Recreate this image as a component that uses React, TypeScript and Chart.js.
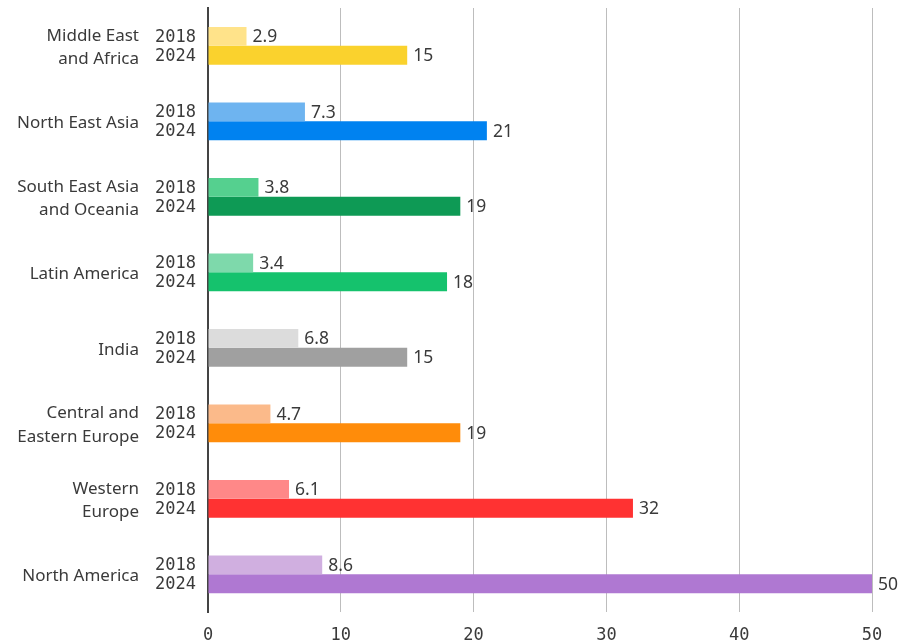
import React, { useEffect, useRef } from "react";
import { Chart, registerables } from "chart.js";

Chart.register(...registerables);

const regions: (string | string[])[] = [
  ["Middle East", "and Africa"],
  "North East Asia",
  ["South East Asia", "and Oceania"],
  "Latin America",
  "India",
  ["Central and", "Eastern Europe"],
  ["Western", "Europe"],
  "North America",
];
const yearLabels = ["2018", "2024"];
const values2018 = [2.9, 7.3, 3.8, 3.4, 6.8, 4.7, 6.1, 8.6];
const values2024 = [15, 21, 19, 18, 15, 19, 32, 50];
const colors2018 = ["#FFE38A", "#6EB4F0", "#55D08F", "#7ED9AB", "#DCDCDC", "#FBBA8A", "#FF8888", "#D0AFE0"];
const colors2024 = ["#FAD22D", "#0082F0", "#0E9A55", "#15C26D", "#A0A0A0", "#FF8C0A", "#FF3232", "#AF78D2"];
const xTicks = [0, 10, 20, 30, 40, 50];

const TEXT = "#3a3a3a";
const SANS = "'Noto Sans', sans-serif";
const MONO = "'DejaVu Sans Mono', monospace";

const labelPlugin = {
  id: "labelPlugin",
  afterDatasetsDraw(chart: any) {
    const ctx = chart.ctx;
    const yScale = chart.scales.y;
    ctx.save();
    chart.data.datasets.forEach((ds: any, di: number) => {
      const meta = chart.getDatasetMeta(di);
      meta.data.forEach((bar: any, i: number) => {
        const v = ds.data[i];
        ctx.font = `17.5px ${SANS}`;
        ctx.fillStyle = TEXT;
        ctx.textAlign = "left";
        ctx.textBaseline = "middle";
        ctx.fillText(String(v), bar.x + 6, bar.y + 1);
        ctx.font = `17px ${MONO}`;
        ctx.textAlign = "right";
        ctx.fillText(yearLabels[di], yScale.right - 12, bar.y + 1);
      });
    });
    ctx.restore();
  },
};

export default function App() {
  const ref = useRef<HTMLCanvasElement>(null);
  useEffect(() => {
    if (!ref.current) return;
    const chart = new Chart(ref.current, {
      type: "bar",
      data: {
        labels: regions,
        datasets: [
          { label: yearLabels[0], data: values2018, backgroundColor: colors2018, categoryPercentage: 0.5, barPercentage: 1 },
          { label: yearLabels[1], data: values2024, backgroundColor: colors2024, categoryPercentage: 0.5, barPercentage: 1 },
        ],
      },
      options: {
        indexAxis: "y",
        animation: false,
        responsive: true,
        maintainAspectRatio: false,
        layout: { padding: { left: 0, right: 45, top: 8, bottom: 0 } },
        plugins: { legend: { display: false }, tooltip: { enabled: false } },
        scales: {
          x: {
            min: 0,
            max: 50,
            afterBuildTicks: (s: any) => {
              s.ticks = xTicks.map((v) => ({ value: v }));
            },
            afterFit: (s: any) => {
              s.height = 30;
              s.paddingLeft = 0;
              s.paddingRight = 0;
            },
            grid: { color: "#bdbdbd", lineWidth: 1, drawTicks: false },
            border: { display: false },
            ticks: { color: TEXT, font: { family: MONO, size: 17 }, padding: 13 },
          },
          y: {
            afterFit: (s: any) => {
              s.width = 208;
              s.paddingTop = 0;
              s.paddingBottom = 0;
            },
            grid: { display: false, drawTicks: false },
            border: { display: true, color: "#444", width: 2 },
            ticks: { color: TEXT, font: { family: SANS, size: 17, lineHeight: 1.4 }, padding: 69, labelOffset: 2 },
          },
        },
      },
      plugins: [labelPlugin],
    });
    return () => chart.destroy();
  }, []);
  return (
    <div style={{ position: "fixed", left: 0, top: 0, width: 917, height: 642, background: "#fff" }}>
      <canvas ref={ref} />
    </div>
  );
}
